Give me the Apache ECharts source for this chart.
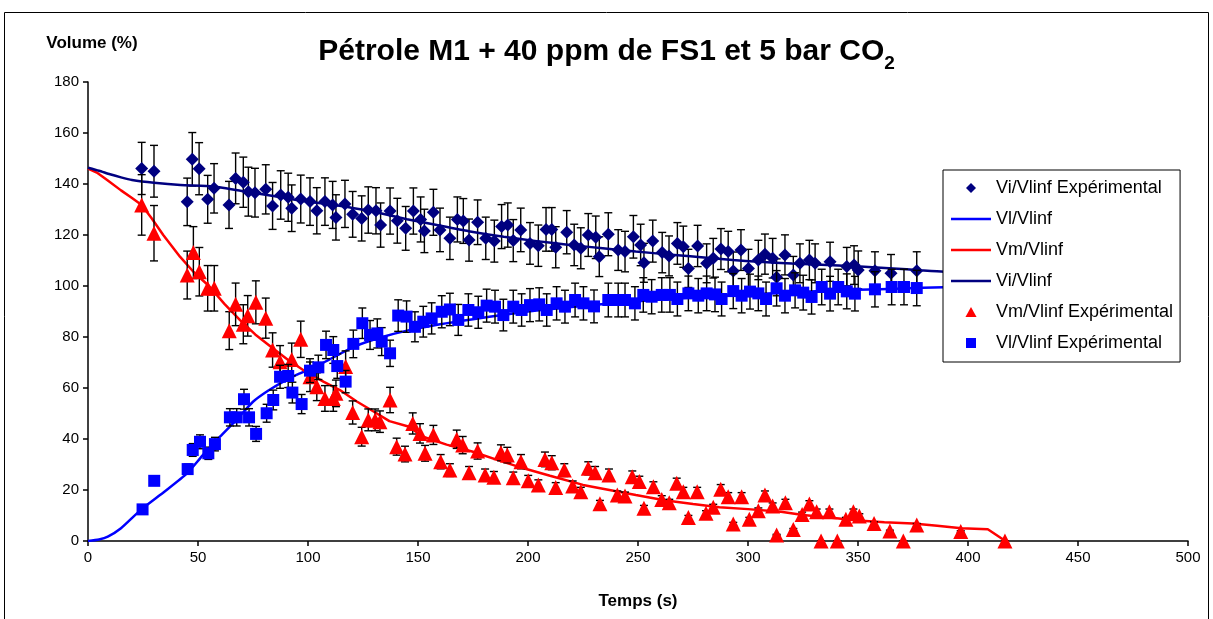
<!DOCTYPE html>
<html>
<head>
<meta charset="utf-8">
<script src="https://cdn.jsdelivr.net/npm/echarts@6/dist/echarts.min.js"></script>
<style>
html,body{margin:0;padding:0;background:#fff;}
#chart{width:1213px;height:619px;}
</style>
</head>
<body>
<div id="chart"></div>
<script>
// ---- axis settings ----
const xMin = 0, xMax = 500, xStep = 50;
const yMin = 0, yMax = 180, yStep = 20;

// ---- Vi/Vlinf Expérimental (diamonds) ----
const viExpT = [24.4,30,45.1,47.4,50.5,54.4,57.3,64.1,67.1,70.6,72.9,75.9,80.8,83.9,87.6,91,92.6,96.7,100.9,104,107.7,111.2,112.7,116.8,120.3,124.4,127.4,130.9,133,137.3,140.6,144.4,147.9,151.2,152.9,157,160,164.5,167.9,170.6,173.2,177.1,180.8,184.7,188,190.8,193.3,196.7,200.9,204.7,208.2,210.8,212.6,217.6,221,224,227.4,230.8,232.4,236.5,241,244.1,247.9,251.2,252.7,256.7,261,264.1,267.9,270.6,272.9,277.1,281.2,284.2,287.7,291,293.3,296.8,300.2,304.7,307.7,311.2,313,316.8,320.6,323.6,327.9,330.5,337.3,344.9,348.2,350.1,357.7,365,376.7];
const viExpV = [146.1,145,133,149.7,146,134,138.3,131.8,142.2,140.7,137,136.6,137.9,131.4,135.7,134.8,130.5,134.1,133.1,129.5,133.1,131.8,126.9,132.2,128.1,126.5,129.8,129.5,123.9,129.4,125.6,122.6,129.4,126.1,121.6,128.9,122,118.7,126.1,125.5,118,125,118.7,117.6,123.3,123.9,117.8,122,116.7,115.8,122.2,122.2,115.2,121.1,116.1,114.8,120,119.1,111.5,120.3,114.1,113.5,119.3,116.1,109.1,117.6,113.1,111.8,116.7,115.4,106.9,115.7,108.9,110.9,114.5,113.5,105.9,114.1,106.9,110.2,112.5,110.9,103.4,112.2,104.3,108.9,110.2,108.9,109.5,107.6,108.2,106.3,106,105,106];
const viErrPct = 7;

// ---- Vl/Vlinf Expérimental (squares) ----
const vlExpT = [24.8,30.1,45.3,47.6,50.9,54.7,57.7,64.5,67.6,70.9,73.2,76.4,81.2,84.2,87.3,91,92.9,97.1,100.9,104.7,108.2,111.5,113.3,117.1,120.6,124.7,128.2,131.5,133.5,137.3,141,144.8,148.6,152.4,156.2,160.8,164.5,168.3,172.9,177.4,181.2,185,188.8,193.3,197.1,200.9,205.1,208.5,213,216.8,221.4,225.2,230,236.5,241,244.1,248.6,252.4,256.2,260.8,264.5,267.9,272.9,277.4,281.2,285,288,293.3,297.1,300.9,304.7,308.2,313,316.8,321.4,325.1,328.9,333.5,337.3,341,344.9,348.6,357.7,365.3,370.9,376.7];
const vlExpV = [12.4,23.6,28.2,35.7,38.9,34.4,38,48.5,48.5,55.6,48.5,42,50.1,55.3,64.4,64.7,58.2,53.7,66.8,68.1,76.9,74.9,68.6,62.5,77.3,85.4,80.8,81.4,78.2,73.6,88.4,88,84,86,87.3,89.9,90.8,86.7,90.6,89.7,92.3,91.9,88.6,91.9,90.6,92.5,92.8,90.6,93.2,91.9,94.5,93.2,92,94.5,94.5,94.5,93.2,96.5,95.8,96.5,96.5,94.9,97.1,96.2,97.1,96.7,94.9,98,96.2,97.8,97.1,94.9,99.1,96.2,98.3,97.4,95.7,99.6,97,99.6,97.9,97,98.7,99.6,99.6,99.2];
const vlErrPct = 7;

// ---- Vm/Vlinf Expérimental (triangles) ----
const vmExpT = [24.4,30,45.1,47.9,50.6,54.4,57.4,64.2,67.1,70.6,72.6,76.3,80.8,83.9,87.3,92.6,96.7,100.9,104,107.7,111.5,112.7,117.1,120.3,124.4,127.4,130.5,132.7,137.3,140.3,144.1,147.6,150.9,153.2,157,160.3,164.5,167.6,170.3,173.2,177.1,180.5,184.5,187.7,190.6,193.3,196.8,200.1,204.7,207.7,210.8,212.6,216.5,220.3,224,227.4,230.5,232.7,236.8,240.6,244.1,247.4,250.6,252.7,257,260.8,264.2,267.6,270.6,272.9,276.9,280.9,284.2,287.6,291,293.3,297.1,300.6,304.7,307.7,311.2,313,317,320.6,324.6,327.9,331.2,333.2,337,340.6,344.5,347.9,350.6,357.3,364.5,370.6,376.7,396.7,416.8];
const vmExpV = [131.8,120.7,104.3,113.1,105.6,99.1,99.1,82.5,92.8,85,88.3,93.6,87.4,74.9,70.3,71.2,79.1,64.4,60.5,55.9,55.9,57.9,68.4,50.4,40.9,47.5,47.5,46.8,55.3,37,34.1,46.1,42.2,34.4,41.6,31.1,27.8,39.9,37.6,26.8,35.3,25.9,25,34.6,33.7,24.8,31.1,23.6,22,32,30.7,21,27.8,21.6,19.3,28.5,26.8,14.6,25.9,18,17.6,25.2,23.3,12.8,21.3,16.3,15,22.6,19.3,9.2,19.3,10.9,13.2,20.3,17.4,6.7,17.4,8.5,11.9,18,13.7,2.4,15,4.5,10.4,14.5,11.5,0,11.5,0,8.5,11.5,9.8,6.9,3.9,0,6.3,3.7,0];
const vmErrPct = 9;

// ---- fitted curves ----
const viFitT = [0,5,10,15,20,30,42,57,72,85,95,107,118,133,145,158,173,189,204,219,234,249,265,280,293,305,320,336,351,366,378,389,400,417];
const viFitV = [146.4,145.2,143.8,142.6,141.6,140.5,139.6,139,137,135.2,133.7,132.3,131,128.5,126.2,124,121.5,119.3,117.6,116.1,114.8,113.5,112.3,111.2,110.2,109.5,108.8,108.2,107.6,106.9,106.2,105.6,105.4,105.3];
const vlFitT = [0,5,9,15,24,35,45,52,60,68,75,82,90,96,102,110,121,133,146,160,175,190,200,212,225,237,250,262,275,287,300,312,325,337,350,370,389,417];
const vlFitV = [0,0.6,1.7,5,12.2,19.5,26.5,33.5,40.9,48,54.6,59,63.1,65.6,67.7,71.3,76.2,79.8,82.7,85,87,88.8,90,91.1,92.2,93.1,94,94.8,95.5,96.1,96.7,97.2,97.7,98.1,98.5,99,99.5,99.6];
const vmFitT = [0,4,8.7,15,20,24.4,29,34.2,41.8,48,55,62,69,76,84,91,99,107,114.5,122,130,137,146,152,163,175,187,198,210,225,237,249,262,275,287,300,315,325,337,350,362,375,386,397,409,417];
const vmFitV = [146,144.5,141.6,137.5,134.5,131.8,126.5,120,111.5,105.5,100,93,86.7,81,75.6,71,66.4,62.5,59.2,54.8,50.7,47,44.8,41,37.8,35,31.5,28.5,25.6,22,20,18,16,14.5,13.2,12.5,11.5,10.2,9.2,8,7.4,6.9,6,5,4.6,0];

// ---- names ----
const nameViExp = 'Vi/Vlinf Expérimental';
const nameVlFit = 'Vl/Vlinf';
const nameVmFit = 'Vm/Vlinf';
const nameViFit = 'Vi/Vlinf';
const nameVmExp = 'Vm/Vlinf Expérimental';
const nameVlExp = 'Vl/Vlinf Expérimental';

const cNavy = '#000080', cBlue = '#0000FF', cRed = '#FF0000';
const FONT = '"Liberation Sans", Arial, sans-serif';

function zip(t, v) { return t.map((x, i) => [x, v[i]]); }
function zipErr(t, v, pct) { return t.map((x, i) => [x, v[i], v[i] * pct / 100]); }

function errRender(params, api) {
  const x = api.value(0), y = api.value(1), e = api.value(2);
  const top = api.coord([x, y + e]);
  const bot = api.coord([x, Math.max(y - e, 0)]);
  const hw = 4;
  const style = { stroke: '#000', lineWidth: 1.4, fill: null };
  return {
    type: 'group',
    children: [
      { type: 'line', shape: { x1: top[0], y1: top[1], x2: bot[0], y2: bot[1] }, style: style },
      { type: 'line', shape: { x1: top[0] - hw, y1: top[1], x2: top[0] + hw, y2: top[1] }, style: style },
      { type: 'line', shape: { x1: bot[0] - hw, y1: bot[1], x2: bot[0] + hw, y2: bot[1] }, style: style }
    ]
  };
}

function errSeries(t, v, pct) {
  return {
    type: 'custom', renderItem: errRender, data: zipErr(t, v, pct),
    encode: { x: 0, y: 1 }, silent: true, clip: true
  };
}

const iconDiamond = 'path://M5,0L10,5L5,10L0,5Z';
const iconTriangle = 'path://M5,0L10,9L0,9Z';
const iconSquare = 'path://M0,0H10V10H0Z';
const iconLine = 'path://M0,0H40V2.6H0Z';

const chart = echarts.init(document.getElementById('chart'), null, { renderer: 'canvas' });
const option = {
  animation: false,
  backgroundColor: '#fff',
  textStyle: { fontFamily: FONT },
  title: {
    left: 'center', top: 26,
    text: '{a|Pétrole M1 + 40 ppm de FS1 et 5 bar CO}{b|2}',
    textStyle: {
      rich: {
        a: { fontFamily: FONT, fontSize: 30, fontWeight: 'bold', color: '#000', lineHeight: 36, verticalAlign: 'bottom' },
        b: { fontFamily: FONT, fontSize: 19, fontWeight: 'bold', color: '#000', lineHeight: 36, verticalAlign: 'bottom', padding: [0, 0, -6, 0] }
      }
    }
  },
  graphic: [{
    type: 'rect', shape: { x: 4.5, y: 12.5, width: 1204, height: 640 },
    style: { fill: null, stroke: '#000', lineWidth: 1 }, silent: true, z: -1
  }],
  grid: { left: 88, right: 25, top: 82, bottom: 78, containLabel: false },
  xAxis: {
    type: 'value', min: xMin, max: xMax, interval: xStep,
    name: 'Temps (s)', nameLocation: 'middle', nameGap: 52,
    nameTextStyle: { fontFamily: FONT, fontSize: 17, fontWeight: 'bold', color: '#000' },
    axisLine: { show: true, onZero: false, lineStyle: { color: '#000', width: 1.5 } },
    axisTick: { show: true, inside: false, length: 5, lineStyle: { color: '#000', width: 1.5 } },
    axisLabel: { fontFamily: FONT, fontSize: 15, color: '#000', margin: 9 },
    splitLine: { show: false }
  },
  yAxis: {
    type: 'value', min: yMin, max: yMax, interval: yStep,
    name: 'Volume (%)', nameLocation: 'end', nameGap: 30,
    nameTextStyle: { fontFamily: FONT, fontSize: 17, fontWeight: 'bold', color: '#000', align: 'center', padding: [0, 0, 0, 8] },
    axisLine: { show: true, lineStyle: { color: '#000', width: 1.5 } },
    axisTick: { show: true, inside: false, length: 5, lineStyle: { color: '#000', width: 1.5 } },
    axisLabel: { fontFamily: FONT, fontSize: 15, color: '#000', margin: 9 },
    splitLine: { show: false }
  },
  legend: {
    orient: 'vertical', left: 943, top: 170,
    backgroundColor: '#fff', borderColor: '#000', borderWidth: 1,
    padding: [9, 7, 10, 8], itemGap: 13, itemWidth: 40, itemHeight: 10,
    symbolKeepAspect: true,
    textStyle: { fontFamily: FONT, fontSize: 18, color: '#000' },
    data: [
      { name: nameViExp, icon: iconDiamond },
      { name: nameVlFit, icon: iconLine },
      { name: nameVmFit, icon: iconLine },
      { name: nameViFit, icon: iconLine },
      { name: nameVmExp, icon: iconTriangle },
      { name: nameVlExp, icon: iconSquare }
    ],
    z: 20
  },
  series: [
    Object.assign(errSeries(viExpT, viExpV, viErrPct), { z: 2 }),
    { name: nameViExp, type: 'scatter', data: zip(viExpT, viExpV), symbol: 'diamond', symbolSize: 13, itemStyle: { color: cNavy, opacity: 1 }, z: 3 },
    { name: nameVlFit, type: 'line', data: zip(vlFitT, vlFitV), symbol: 'none', smooth: 0.2, lineStyle: { color: cBlue, width: 2.5 }, itemStyle: { color: cBlue }, z: 4 },
    { name: nameVmFit, type: 'line', data: zip(vmFitT, vmFitV), symbol: 'none', smooth: false, lineStyle: { color: cRed, width: 2.5 }, itemStyle: { color: cRed }, z: 4 },
    { name: nameViFit, type: 'line', data: zip(viFitT, viFitV), symbol: 'none', smooth: 0.2, lineStyle: { color: cNavy, width: 2.5 }, itemStyle: { color: cNavy }, z: 4 },
    Object.assign(errSeries(vmExpT, vmExpV, vmErrPct), { z: 5 }),
    { name: nameVmExp, type: 'scatter', data: zip(vmExpT, vmExpV), symbol: 'triangle', symbolSize: 15, itemStyle: { color: cRed, opacity: 1 }, z: 6 },
    Object.assign(errSeries(vlExpT, vlExpV, vlErrPct), { z: 7 }),
    { name: nameVlExp, type: 'scatter', data: zip(vlExpT, vlExpV), symbol: 'rect', symbolSize: 12, itemStyle: { color: cBlue, opacity: 1 }, z: 8 }
  ]
};
chart.setOption(option);
</script>
</body>
</html>
